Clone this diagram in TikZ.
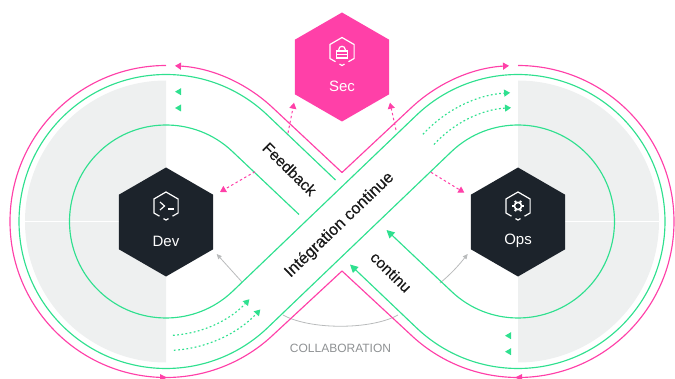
\documentclass[tikz,border=0pt]{standalone}
\usepackage{fontspec}
\setmainfont{Liberation Sans}
\usetikzlibrary{calc,arrows.meta,shapes.geometric}
\definecolor{loopgreen}{HTML}{2FE08F}
\definecolor{secpink}{HTML}{FF40A8}
\definecolor{hexdark}{HTML}{1C232B}
\definecolor{panelgray}{HTML}{EEF0F0}
\definecolor{softgray}{HTML}{B9BBBC}
\definecolor{labelgray}{HTML}{8E9193}
\tikzset{
	hexbox/.style={regular polygon,regular polygon sides=6,shape border rotate=30,minimum size=109pt,inner sep=0pt,outer sep=0pt},
	hexlabel/.style={text=white,font=\fontsize{15}{18}\selectfont},
	bandlabel/.style={text=black!90,font=\fontsize{15.5}{18}\selectfont\addfontfeature{FakeBold=0.35}},
	greenline/.style={line width=1.15pt,color=loopgreen},
	pinkline/.style={line width=1.15pt,color=secpink},
	greendots/.style={line width=1.15pt,color=loopgreen,dash pattern=on 1.8pt off 2.4pt,-{Triangle[length=6pt,width=7pt,color=loopgreen]}},
	pinkdash/.style={line width=1pt,color=secpink,dash pattern=on 2.5pt off 2.5pt,-{Triangle[length=6pt,width=7pt]}},
	softline/.style={line width=0.8pt,color=softgray},
	iconline/.style={line width=1.2pt,color=white}
}
\newcommand{\hexicon}[1]{
	\draw[iconline] ($(#1)+(-6.5,-10.2)$) -- ++(-5.6,3.2) -- ++(0,14) -- ++(12.1,7) -- ++(12.1,-7) -- ++(0,-14) -- ++(-5.6,-3.2);
	\draw[iconline] ($(#1)+(-2.5,-12.6)$) -- ++(2.5,-1.4) -- ++(2.5,1.4);
}

\begin{document}
\begin{tikzpicture}[x=1pt,y=1pt]
	\useasboundingbox (0,0) rectangle (675,378);
	\coordinate (loopL) at (166,156.5);
	\coordinate (loopR) at (518,156.5);

	%%%%% PANELS %%%%%
	\fill[panelgray] ($(loopL)+(0,141)$) arc (90:270:141) -- cycle;
	\fill[panelgray] ($(loopR)+(0,141)$) arc (90:-90:141) -- cycle;
	\draw[white,line width=1.6pt] (25,156.5) -- (166,156.5);
	\draw[white,line width=1.6pt] (518,156.5) -- (659,156.5);

	%%%%% GRAY LINKS %%%%%
	\coordinate (devlinkA) at (241.7,96.3);
	\coordinate (devlinkB) at (216.7,124);
	\coordinate (opslinkA) at (440,95);
	\coordinate (opslinkB) at (467.7,124);
	\coordinate (collabA) at (283,63);
	\coordinate (collabB) at (398,63);
	\draw[softline,-{Triangle[length=5pt,width=4.5pt]}] (devlinkA) -- (devlinkB);
	\draw[softline,-{Triangle[length=5pt,width=4.5pt]}] (opslinkA) .. controls (451,104) and (459,113) .. (opslinkB);
	\draw[softline] (collabA) .. controls (310,48) and (371,48) .. (collabB);
	\node[text=labelgray,font=\fontsize{12}{14}\selectfont] (collab) at (340.5,30) {COLLABORATION};

	%%%%% PINK LOOP %%%%%
	\coordinate (pinkup) at (342,205.5);
	\coordinate (pinkdown) at (342,107);
	\draw[pinkline,-{Triangle[length=6pt,width=7pt]}] (pinkup) -- ($(loopL)+(46.5:156)$) arc (46.5:86.7:156);
	\draw[pinkline] ($(loopL)+(0,156)$) arc (90:313.5:156) -- (pinkdown);
	\draw[pinkline,-{Triangle[length=6pt,width=7pt]}] (pinkup) -- ($(loopR)+(133.5:156)$) arc (133.5:93.3:156);
	\draw[pinkline] ($(loopR)+(0,156)$) arc (90:-133.5:156) -- (pinkdown);
	\fill[secpink] (160,4) -- (167,0.5) -- (160,-3) -- cycle;
	\fill[secpink] (522,4) -- (515,0.5) -- (522,-3) -- cycle;

	%%%%% GREEN LOOPS %%%%%
	\coordinate (stopone) at (299,163.5);
	\coordinate (tipone) at (350,113.5);
	\coordinate (stoptwo) at (335.5,198);
	\coordinate (tiptwo) at (386.5,148);
	\draw[greenline,-{Triangle[length=8pt,width=8pt]}] (stopone) -- ($(loopL)+(46.2:96.5)$) arc (46.2:313.8:96.5) -- ($(loopR)+(133.8:147)$) arc (133.8:-133.8:147) -- (tipone);
	\draw[greenline,-{Triangle[length=8pt,width=8pt]}] (stoptwo) -- ($(loopL)+(46.2:147)$) arc (46.2:313.8:147) -- ($(loopR)+(133.8:96.5)$) arc (133.8:-133.8:96.5) -- (tiptwo);

	%%%%% DOTTED ARCS %%%%%
	\foreach \r in {114,129}{
		\draw[greendots] ($(loopR)+(137.5:\r)$) arc (137.5:93.5:\r);
		\draw[greendots] ($(loopL)+(-86.5:\r)$) arc (-86.5:-43:\r);
	}
	\foreach \y in {286.3,270}{
		\fill[loopgreen] (181,\y+3.5) -- (175,\y) -- (181,\y-3.5) -- cycle;
	}
	\foreach \y in {42.3,26.3}{
		\fill[loopgreen] (511,\y+3.5) -- (505,\y) -- (511,\y-3.5) -- cycle;
	}

	%%%%% HEXAGONS %%%%%
	\node[hexbox,fill=secpink] (sec) at (342,311) {};
	\node[hexbox,fill=hexdark] (dev) at (166,156) {};
	\node[hexbox,fill=hexdark] (ops) at (518,156) {};
	\node[hexlabel] (seclabel) at (342,291.3) {Sec};
	\node[hexlabel] (devlabel) at (166,137) {Dev};
	\node[hexlabel] (opslabel) at (518,137) {Ops};

	\coordinate (secicon) at (342,326.5);
	\coordinate (devicon) at (166,172);
	\coordinate (opsicon) at (518,172);
	\hexicon{secicon}
	\hexicon{devicon}
	\hexicon{opsicon}

	\draw[iconline] ($(secicon)+(-5.5,-6.5)$) rectangle ($(secicon)+(5.5,0.5)$);
	\draw[iconline] ($(secicon)+(-5.5,-3)$) -- ($(secicon)+(5.5,-3)$);
	\draw[iconline] ($(secicon)+(-3.2,0.5)$) -- ++(0,1.5) arc (180:0:3.2) -- ++(0,-1.5);

	\draw[iconline] ($(devicon)+(-6,4)$) -- ($(devicon)+(-1.5,0)$) -- ($(devicon)+(-6,-4)$);
	\draw[iconline] ($(devicon)+(2.3,-3)$) -- ($(devicon)+(8,-3)$);

	\draw[iconline,line width=1.6pt] (opsicon) circle (3.6);
	\foreach \a in {0,60,...,300}{
		\draw[iconline,line width=2pt] ($(opsicon)+(\a:4)$) -- ($(opsicon)+(\a:6)$);
	}

	%%%%% PINK DASHES %%%%%
	\coordinate (fbA) at (255,206.3);
	\coordinate (fbB) at (220,186);
	\coordinate (fbC) at (288,245);
	\coordinate (fbD) at (294,275.3);
	\coordinate (fbE) at (396,248);
	\coordinate (fbF) at (390,275.3);
	\coordinate (fbG) at (431,205.7);
	\coordinate (fbH) at (464.3,185.3);
	\draw[pinkdash] (fbA) -- (fbB);
	\draw[pinkdash] (fbC) -- (fbD);
	\draw[pinkdash] (fbE) -- (fbF);
	\draw[pinkdash] (fbG) -- (fbH);

	%%%%% BAND TEXT %%%%%
	\node[bandlabel,rotate=-44.5] (feedback) at (289.7,209) {Feedback};
	\node[bandlabel,rotate=43.8,font=\fontsize{16.4}{18}\selectfont\addfontfeature{FakeBold=0.35}] (integration) at (339.5,153) {Intégration continue};
	\node[bandlabel,rotate=-44.5] (continu) at (391,106) {continu};
\end{tikzpicture}
\end{document}
